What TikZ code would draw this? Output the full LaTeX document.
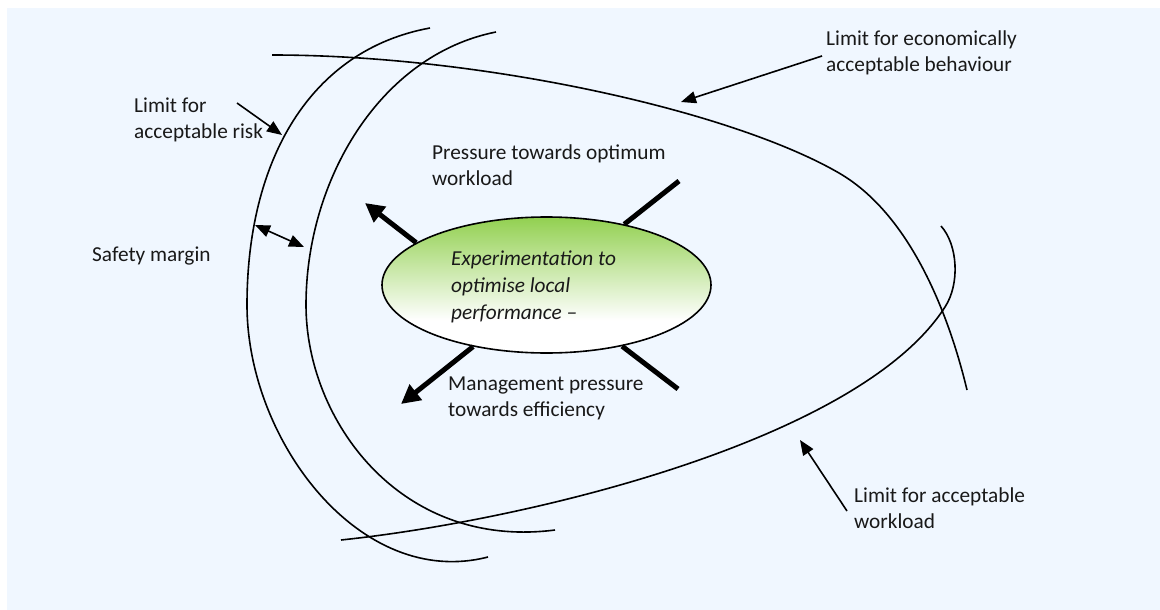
\documentclass[tikz,border=0pt]{standalone}
\usepackage{fontspec}
\setmainfont{Carlito}
\usetikzlibrary{shapes.geometric,arrows.meta}
\definecolor{bgblue}{RGB}{240,247,255}
\definecolor{leafgreen}{RGB}{146,208,80}
\definecolor{inkgray}{RGB}{25,25,25}
% green at the top fading to white near the bottom (0bp = bottom)
\pgfdeclareverticalshading{leaffade}{100bp}{%
  color(0bp)=(white); color(25bp)=(white); color(37bp)=(white);
  color(75bp)=(leafgreen); color(100bp)=(leafgreen)}
\begin{document}
\begin{tikzpicture}[x=1pt,y=-1pt,
  limit/.style={line width=1.6pt},
  label/.style={font=\fontsize{21.3}{26}\selectfont, inner sep=0pt,
    align=left, anchor=west, text=inkgray},
  pointer/.style={line width=1.6pt, -{Triangle[length=15pt,width=12pt]}},
  margin/.style={line width=1.6pt, {Triangle[length=15pt,width=12pt]}-{Triangle[length=15pt,width=12pt]}},
  push/.style={line width=5pt, -{Triangle[length=19pt,width=19pt]}},
  pull/.style={line width=5pt},
  bubble/.style={ellipse, draw, line width=1.6pt, shading=leaffade,
    minimum width=329pt, minimum height=136pt, inner sep=0pt}]
\useasboundingbox (0,0) rectangle (1160,610);
\fill[bgblue] (7,8) rectangle (1160,610);

% limit for acceptable risk (outer) and the inner working boundary
\draw[limit] (430,28) .. controls (310,50) and (247,160) .. (247,305)
                      .. controls (247,440) and (360,590) .. (488,557);
\draw[limit] (496,32) .. controls (380,55) and (306,180) .. (306,305)
                      .. controls (306,420) and (400,550) .. (555,530);
% limit for economically acceptable behaviour
\draw[limit] (272,55) .. controls (480,55) and (730,110) .. (839,173)
                      .. controls (920,220) and (955,340) .. (967,390);
% limit for acceptable workload
\draw[limit] (341,540) .. controls (530,520) and (860,440) .. (945,307)
                       .. controls (960,284) and (958,245) .. (941,226);

% central bubble
\node[bubble] (exp) at (546.5,285) {};
\node[label, font=\fontsize{21.3}{27}\selectfont\itshape] (exptext) at (451,286.5)
  {Experimentation to\\optimise local\\performance --};

% labels
\node[label] (risk) at (134,120) {Limit for\\acceptable risk};
\node[label] (safety) at (92,256) {Safety margin};
\node[label] (optimum) at (432,165.5) {Pressure towards optimum\\workload};
\node[label] (econ) at (826,52.5) {Limit for economically\\acceptable behaviour};
\node[label] (mgmt) at (448,398.5) {Management pressure\\towards efficiency};
\node[label] (work) at (854,508) {Limit for acceptable\\workload};

% pointer ends
\coordinate (riskTail) at (237,103);
\coordinate (riskTip) at (282,135);
\coordinate (econTail) at (822,56);
\coordinate (econTip) at (681,102);
\coordinate (workTail) at (847,511);
\coordinate (workTip) at (800,440);
\coordinate (outerPt) at (255,225);
\coordinate (innerPt) at (304,247);

\draw[pointer] (riskTail) -- (riskTip);
\draw[pointer] (econTail) -- (econTip);
\draw[pointer] (workTail) -- (workTip);
\draw[margin] (outerPt) -- (innerPt);

% pressures on the bubble
\coordinate (ulEnd) at (365,203);
\coordinate (urEnd) at (679,181);
\coordinate (llEnd) at (401,404);
\coordinate (lrEnd) at (678,389);
\draw[push] (exp.162.5) -- (ulEnd);
\draw[pull] (exp.38.7) -- (urEnd);
\draw[push] (exp.220.4) -- (llEnd);
\draw[pull] (exp.321) -- (lrEnd);
\end{tikzpicture}
\end{document}
